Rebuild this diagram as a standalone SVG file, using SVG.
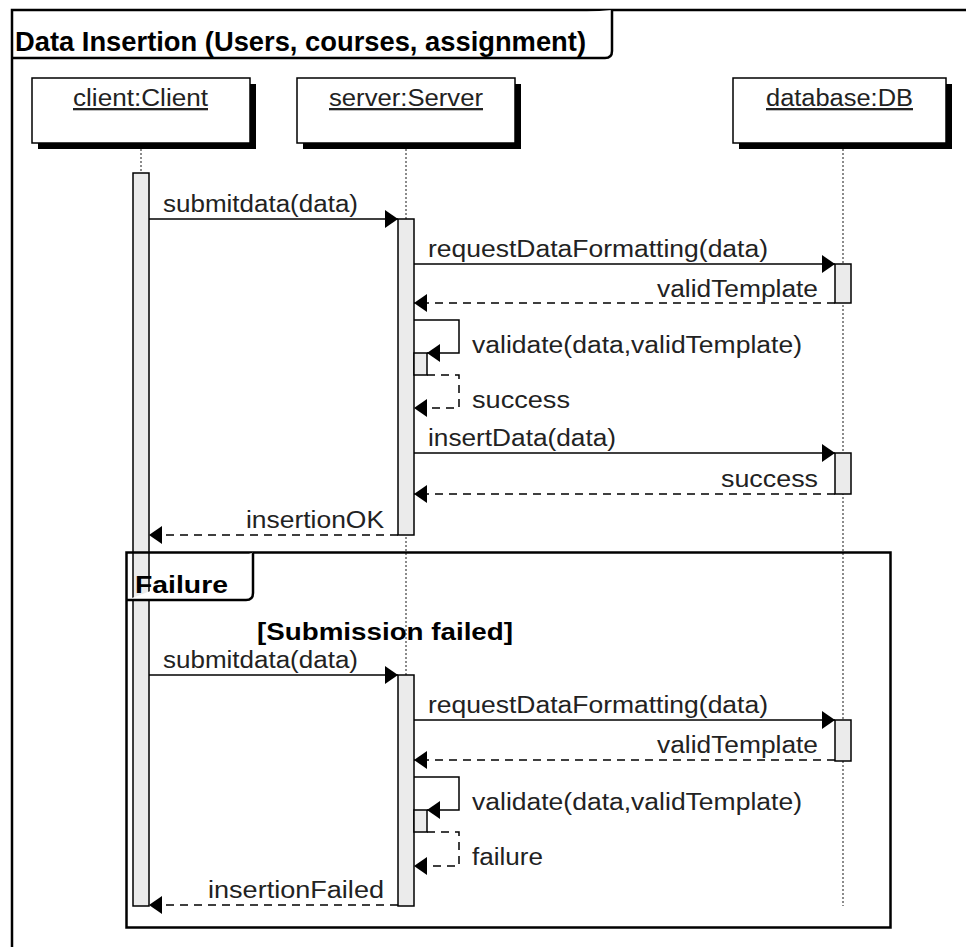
<svg xmlns="http://www.w3.org/2000/svg" width="966" height="947" viewBox="0 0 966 947">
  <style>
    .frame { fill: none; stroke: #000; stroke-width: 2.5; }
    .tab { fill: #fff; stroke: #000; stroke-width: 2.5; }
    .box { fill: #fff; stroke: #000; stroke-width: 1.5; }
    .shadow { fill: #000; }
    .life { stroke: #666; stroke-width: 1.5; stroke-dasharray: 2 2; fill: none; }
    .act { fill: #ebebeb; stroke: #000; stroke-width: 1.5; }
    .msg { fill: none; stroke: #000; stroke-width: 1.5; }
    .ret { fill: none; stroke: #000; stroke-width: 1.5; stroke-dasharray: 8 6; }
    .lbl { font-family: "Liberation Sans", Arial, sans-serif; font-size: 23px; fill: #222; }
    .name { font-family: "Liberation Sans", Arial, sans-serif; font-size: 23px; fill: #222; text-decoration: underline; }
    .bold { font-family: "Liberation Sans", Arial, sans-serif; font-weight: bold; fill: #000; }
  </style>
  <defs>
    <marker id="head" markerUnits="userSpaceOnUse" markerWidth="14" markerHeight="20" refX="13" refY="10" orient="auto">
      <path d="M0,1 L13,10 L0,19 z" fill="#000"/>
    </marker>
  </defs>

  <rect width="966" height="947" fill="#fff"/>

  <!-- outer interaction frame -->
  <g id="frame-main">
    <path class="frame" d="M12,947 V10 H970"/>
    <path class="tab" d="M12,58 H605 Q612,58 612,51 V10"/>
    <text class="bold" x="15" y="51" font-size="27" textLength="571" lengthAdjust="spacingAndGlyphs">Data Insertion (Users, courses, assignment)</text>
  </g>

  <!-- participants -->
  <g id="client">
    <rect class="shadow" x="38" y="84" width="218" height="65"/>
    <rect class="box" x="32" y="78" width="218" height="65"/>
    <text class="name" x="73" y="106" textLength="135" lengthAdjust="spacingAndGlyphs">client:Client</text>
    <line class="life" x1="141" y1="149" x2="141" y2="173"/>
    <rect class="act" x="133" y="173" width="16" height="733"/>
  </g>

  <g id="server">
    <rect class="shadow" x="303" y="84" width="218" height="65"/>
    <rect class="box" x="297" y="78" width="218" height="65"/>
    <text class="name" x="329" y="106" textLength="154" lengthAdjust="spacingAndGlyphs">server:Server</text>
    <line class="life" x1="406" y1="149" x2="406" y2="906"/>
    <rect class="act" x="398" y="219" width="16" height="316"/>
    <rect class="act" x="414" y="353" width="13" height="22"/>
    <rect class="act" x="398" y="675" width="16" height="231"/>
    <rect class="act" x="414" y="810" width="13" height="22"/>
  </g>

  <g id="database">
    <rect class="shadow" x="739" y="84" width="213" height="65"/>
    <rect class="box" x="733" y="78" width="213" height="65"/>
    <text class="name" x="766" y="106" textLength="147" lengthAdjust="spacingAndGlyphs">database:DB</text>
    <line class="life" x1="843" y1="149" x2="843" y2="906"/>
    <rect class="act" x="835" y="264" width="16" height="39"/>
    <rect class="act" x="835" y="453" width="16" height="41"/>
    <rect class="act" x="835" y="720" width="16" height="41"/>
  </g>

  <!-- alternative fragment -->
  <g id="frame-failure">
    <rect class="frame" x="126.5" y="552.5" width="764" height="375"/>
    <path class="tab" d="M126.5,600 H246 Q253,600 253,593 V552.5"/>
    <text class="bold" x="135" y="593" font-size="23" textLength="93" lengthAdjust="spacingAndGlyphs">Failure</text>
    <text class="bold" x="257" y="640" font-size="23" textLength="256" lengthAdjust="spacingAndGlyphs">[Submission failed]</text>
  </g>

  <!-- messages -->
  <g id="messages">
    <path class="msg" d="M149,219 H398" marker-end="url(#head)"/>
    <text class="lbl" x="163" y="212" textLength="195" lengthAdjust="spacingAndGlyphs">submitdata(data)</text>

    <path class="msg" d="M414,264 H835" marker-end="url(#head)"/>
    <text class="lbl" x="428" y="257" textLength="340" lengthAdjust="spacingAndGlyphs">requestDataFormatting(data)</text>

    <path class="ret" d="M835,303 H414" marker-end="url(#head)"/>
    <text class="lbl" x="657" y="297" textLength="161" lengthAdjust="spacingAndGlyphs">validTemplate</text>

    <path class="msg" d="M414,320 H459 V353 H427" marker-end="url(#head)"/>
    <text class="lbl" x="472" y="353" textLength="330" lengthAdjust="spacingAndGlyphs">validate(data,validTemplate)</text>

    <path class="ret" d="M427,375 H459 V408 H414" marker-end="url(#head)"/>
    <text class="lbl" x="472" y="408" textLength="98" lengthAdjust="spacingAndGlyphs">success</text>

    <path class="msg" d="M414,453 H835" marker-end="url(#head)"/>
    <text class="lbl" x="428" y="446" textLength="188" lengthAdjust="spacingAndGlyphs">insertData(data)</text>

    <path class="ret" d="M835,494 H414" marker-end="url(#head)"/>
    <text class="lbl" x="721" y="487" textLength="97" lengthAdjust="spacingAndGlyphs">success</text>

    <path class="ret" d="M398,535 H149" marker-end="url(#head)"/>
    <text class="lbl" x="246" y="528" textLength="138" lengthAdjust="spacingAndGlyphs">insertionOK</text>

    <path class="msg" d="M149,675 H398" marker-end="url(#head)"/>
    <text class="lbl" x="163" y="668" textLength="195" lengthAdjust="spacingAndGlyphs">submitdata(data)</text>

    <path class="msg" d="M414,720 H835" marker-end="url(#head)"/>
    <text class="lbl" x="428" y="713" textLength="340" lengthAdjust="spacingAndGlyphs">requestDataFormatting(data)</text>

    <path class="ret" d="M835,760 H414" marker-end="url(#head)"/>
    <text class="lbl" x="657" y="753" textLength="161" lengthAdjust="spacingAndGlyphs">validTemplate</text>

    <path class="msg" d="M414,777 H459 V810 H427" marker-end="url(#head)"/>
    <text class="lbl" x="472" y="810" textLength="330" lengthAdjust="spacingAndGlyphs">validate(data,validTemplate)</text>

    <path class="ret" d="M427,832 H459 V866 H414" marker-end="url(#head)"/>
    <text class="lbl" x="472" y="865" textLength="71" lengthAdjust="spacingAndGlyphs">failure</text>

    <path class="ret" d="M398,905 H149" marker-end="url(#head)"/>
    <text class="lbl" x="208" y="898" textLength="176" lengthAdjust="spacingAndGlyphs">insertionFailed</text>
  </g>
</svg>
